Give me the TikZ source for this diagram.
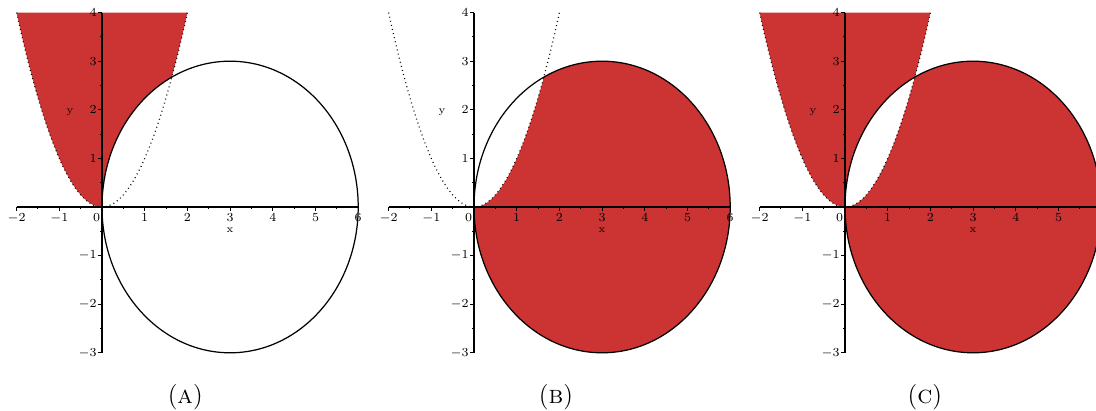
\documentclass[tikz,border=0pt]{standalone}
\usepackage{xcolor}
\definecolor{PlotRed}{HTML}{CC3333}
\usepackage{tikz}
\usetikzlibrary{positioning}
\tikzstyle{region} = [fill=PlotRed]
\tikzstyle{blank} = [fill=white]
\tikzstyle{circ} = [draw=black, line width=0.7pt]
\tikzstyle{parab} = [draw=black, line width=0.7pt, dash pattern=on 0.5pt off 1.9pt]
\tikzstyle{axis} = [draw=black, line width=0.6pt]
\tikzstyle{ticklab} = [inner sep=0pt, font=\fontsize{7.5}{9}\selectfont]
\tikzstyle{axlab} = [inner sep=0pt, font=\fontsize{6}{7}\selectfont]
\tikzstyle{caption} = [inner sep=0pt, font=\fontsize{14.5}{17}\selectfont]
\tikzstyle{panel} = [x=0.854cm, y=0.972cm]

% axes, ticks and tick labels of one panel (#1 = prefix for names, #2 = x labels)
\newcommand{\plotaxes}[2]{%
  \coordinate (#1xl) at (-2,0);
  \coordinate (#1xr) at (6,0);
  \coordinate (#1yb) at (0,-3);
  \coordinate (#1yt) at (0,4);
  \draw[axis] (#1xl) -- (#1xr);
  \draw[axis] (#1yb) -- (#1yt);
  \foreach \t in {-2,...,6} \draw[axis] (\t,0) -- ++(0,-0.08cm);
  \foreach \t in {-1.5,-0.5,...,5.5} \draw[axis] (\t,0) -- ++(0,-0.05cm);
  \foreach \t in {-3,...,4} \draw[axis] (0,\t) -- ++(-0.08cm,0);
  \foreach \t in {-2.5,-1.5,...,3.5} \draw[axis] (0,\t) -- ++(-0.05cm,0);
  \foreach \t [count=\k] in {#2}
    \node[ticklab, below=0.12cm] (#1xlab\k) at (\t,0) {$\t$};
  \node[ticklab, anchor=north east] (#1zero) at ([xshift=-0.03cm, yshift=-0.12cm]0,0) {$0$};
  \foreach \t [count=\k] in {-3,-2,-1,1,2,3,4}
    \node[ticklab, left=0.1cm] (#1ylab\k) at (0,\t) {$\t$};
  \node[axlab] (#1xname) at ([yshift=-0.46cm]3,0) {x};
  \node[axlab] (#1yname) at (-0.75,1.95) {y};
}

\begin{document}
\begin{tikzpicture}
    \useasboundingbox (0,0) rectangle (21.92,8.2);
    \clip (0,0) rectangle (21.92,8.2);

    % (A) above the parabola, outside the circle
    \begin{scope}[panel, shift={(2.04cm,4.06cm)}]
        \fill[region] plot[domain=-2:2, samples=80] (\x,{\x*\x}) -- cycle;
        \fill[blank] (3,0) ellipse[x radius=3, y radius=3];
        \draw[circ] (3,0) ellipse[x radius=3, y radius=3];
        \draw[parab] plot[domain=-2:2, samples=80] (\x,{\x*\x});
        \plotaxes{A}{-2,-1,1,2,3,4,5,6}
        \node[caption] (capA) at (1.95,-3.91) {(\textsc{a})};
    \end{scope}

    % (B) inside the circle, below the parabola
    \begin{scope}[panel, shift={(9.48cm,4.06cm)}]
        \fill[region] (3,0) ellipse[x radius=3, y radius=3];
        \fill[blank] plot[domain=-2:2, samples=80] (\x,{\x*\x}) -- cycle;
        \draw[circ] (3,0) ellipse[x radius=3, y radius=3];
        \draw[parab] plot[domain=-2:2, samples=80] (\x,{\x*\x});
        \plotaxes{B}{-2,-1,1,2,3,4,5,6}
        \node[caption] (capB) at (1.92,-3.91) {(\textsc{b})};
    \end{scope}

    % (C) both regions together
    \begin{scope}[panel, shift={(16.9cm,4.06cm)}]
        \fill[region, even odd rule] plot[domain=-2:2, samples=80] (\x,{\x*\x}) -- cycle
            (3,0) ellipse[x radius=3, y radius=3];
        \draw[circ] (3,0) ellipse[x radius=3, y radius=3];
        \draw[parab] plot[domain=-2:2, samples=80] (\x,{\x*\x});
        \plotaxes{C}{-2,-1,1,2,3,4,5}
        \node[caption] (capC) at (1.87,-3.91) {(\textsc{c})};
    \end{scope}
\end{tikzpicture}
\end{document}
